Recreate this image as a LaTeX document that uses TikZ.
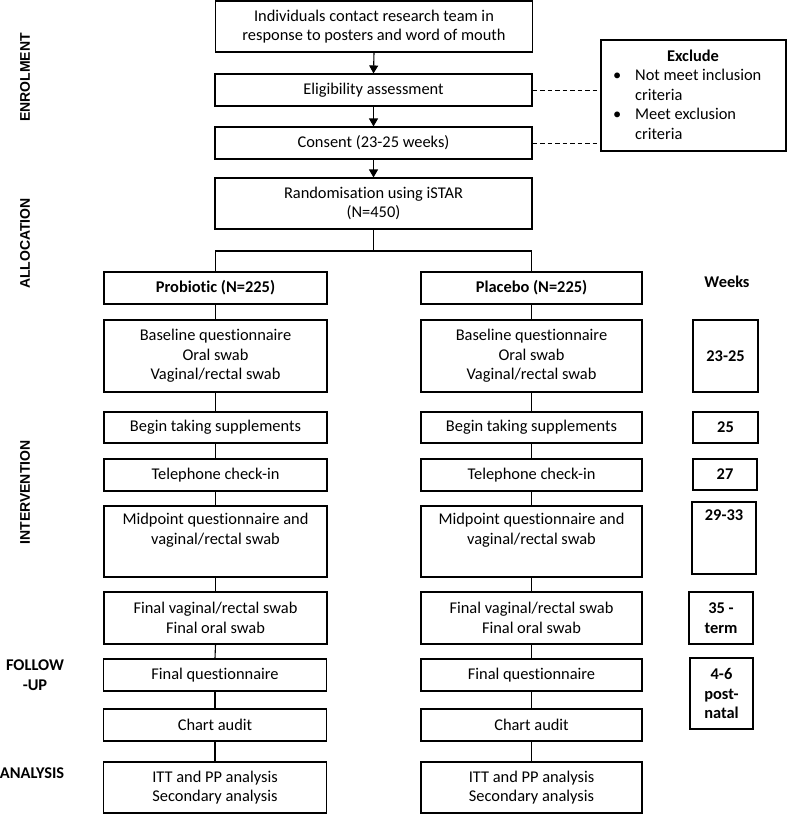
\documentclass[tikz,border=0pt]{standalone}
\usepackage{fontspec}
\setmainfont{Carlito}[Ligatures=NoCommon]
\newfontfamily\stagefont{Liberation Sans}
\usetikzlibrary{arrows.meta}
\newcommand{\mainsz}{\fontsize{16.4}{19.7}\selectfont}
\begin{document}
\begin{tikzpicture}[x=1pt,y=-1pt,
  box/.style={draw, line width=1.1pt, inner sep=0pt, align=center,
    font=\mainsz},
  lcol/.style={box, minimum width=223pt},
  rcol/.style={box, minimum width=221pt},
  ccol/.style={box, minimum width=317pt},
  wk/.style={box, minimum width=64pt, font=\mainsz\bfseries},
  stage/.style={font=\stagefont\fontsize{14}{16}\selectfont\bfseries, rotate=90},
  stage2/.style={font=\mainsz\bfseries, align=center},
  txt/.style={font=\mainsz},
  conn/.style={line width=1.1pt},
  arr/.style={line width=1.1pt, -{Triangle[length=8pt,width=9pt]}},
  dsh/.style={line width=1pt, dash pattern=on 4.5pt off 3pt}
]
\useasboundingbox (0,0) rectangle (787,814);

% stage labels
\node[stage] (lenr) at (25,77.5) {ENROLMENT};
\node[stage] (lall) at (25,243.5) {ALLOCATION};
\node[stage] (lint) at (25,492.5) {INTERVENTION};
\node[stage2] (lfol) at (35,675.5) {FOLLOW\\-UP};
\node[stage2] (lana) at (32,773) {ANALYSIS};

% enrolment column
\node[ccol, minimum height=51pt] (top) at (374,26.5) {Individuals contact research team in\\response to posters and word of mouth};
\node[ccol, minimum height=32pt] (elig) at (373.5,90) {Eligibility assessment};
\node[ccol, minimum height=32pt] (cons) at (373.5,143) {Consent (23-25 weeks)};
\node[ccol, minimum height=51pt] (rand) at (373.5,203.5) {Randomisation using iSTAR\\(N=450)};

% exclude box
\node[box, minimum width=185pt, minimum height=111pt] (exc) at (693.5,95.5) {};
\node[txt, font=\mainsz\bfseries] (exct) at (693,55.5) {Exclude};
\node[txt, anchor=west, inner sep=0pt] (excl) at (613,106) {%
  \begin{tabular}{@{}p{22pt}@{}l@{}}
  \textbullet & Not meet inclusion\\
   & criteria\\
  \textbullet & Meet exclusion\\
   & criteria
  \end{tabular}};

\draw[arr] (top.south) -- (elig.north);
\draw[arr] (elig.south) -- (cons.north);
\draw[arr] (cons.south) -- (rand.north);
\draw[dsh] (elig.east) -- (elig.east -| exc.west);
\draw[dsh] (cons.east) -- (cons.east -| exc.west);

% left column
\node[lcol, minimum height=32pt, font=\mainsz\bfseries] (prob) at (215.5,288) {Probiotic (N=225)};
\node[lcol, minimum height=72pt] (lbase) at (215.5,356) {Baseline questionnaire\\Oral swab\\Vaginal/rectal swab};
\node[lcol, minimum height=31pt] (lbeg) at (215.5,427.5) {Begin taking supplements};
\node[lcol, minimum height=32pt] (ltel) at (215.5,475) {Telephone check-in};
\node[lcol, minimum height=71pt] (lmid) at (215.5,541.5) {Midpoint questionnaire and\\vaginal/rectal swab\\\strut};
\node[lcol, minimum height=52pt] (lfv) at (215.5,618) {Final vaginal/rectal swab\\Final oral swab};
\node[lcol, minimum height=32pt] (lfq) at (215,675) {Final questionnaire};
\node[lcol, minimum height=32pt] (lca) at (215,725) {Chart audit};
\node[lcol, minimum height=51pt] (litt) at (215,787.5) {ITT and PP analysis\\Secondary analysis};

% right column
\node[rcol, minimum height=32pt, font=\mainsz\bfseries] (plac) at (531.5,288) {Placebo (N=225)};
\node[rcol, minimum height=72pt] (rbase) at (531.5,356) {Baseline questionnaire\\Oral swab\\Vaginal/rectal swab};
\node[rcol, minimum height=31pt] (rbeg) at (531.5,427.5) {Begin taking supplements};
\node[rcol, minimum height=32pt] (rtel) at (531.5,475) {Telephone check-in};
\node[rcol, minimum height=71pt] (rmid) at (531.5,541.5) {Midpoint questionnaire and\\vaginal/rectal swab\\\strut};
\node[rcol, minimum height=52pt] (rfv) at (531.5,618) {Final vaginal/rectal swab\\Final oral swab};
\node[rcol, minimum height=32pt] (rfq) at (531.5,675) {Final questionnaire};
\node[rcol, minimum height=32pt] (rca) at (531.5,725) {Chart audit};
\node[rcol, minimum height=51pt] (ritt) at (531.5,787.5) {ITT and PP analysis\\Secondary analysis};

% split
\coordinate (split) at (373.5,251);
\draw[conn] (rand.south) -- (split);
\draw[conn] (split) -| (prob.north);
\draw[conn] (split) -| (plac.north);

% vertical connectors
\foreach \a/\b in {prob/lbase, lbase/lbeg, lbeg/ltel, ltel/lmid, lmid/lfv, lfv/lfq, lfq/lca, lca/litt,
                   plac/rbase, rbase/rbeg, rbeg/rtel, rtel/rmid, rmid/rfv, rfv/rfq, rfq/rca, rca/ritt}
  \draw[conn] (\a.south) -- (\b.north);

% weeks
\node[txt, font=\mainsz\bfseries] (wlab) at (727,282) {Weeks};
\node[wk, minimum width=65pt, minimum height=72pt] (w1) at (725.5,356) {23-25};
\node[wk, minimum width=65pt, minimum height=31pt] (w2) at (725.5,427.5) {25};
\node[wk, minimum height=31pt] (w3) at (725,474.5) {27};
\node[wk, minimum height=72pt] (w4) at (724,538) {29-33\\\strut\\\strut};
\node[wk, minimum height=52pt] (w5) at (721,618) {35 -\\term};
\node[wk, minimum width=63pt, minimum height=71pt] (w6) at (721.5,693.5) {4-6\\post-\\natal};
\end{tikzpicture}
\end{document}
